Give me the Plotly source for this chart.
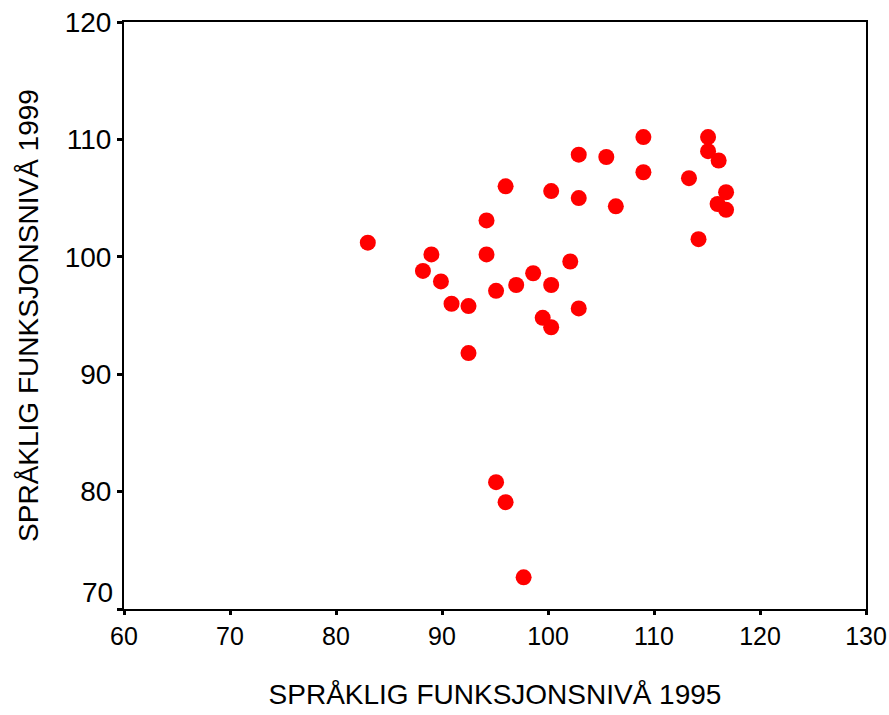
import plotly.graph_objects as go

# Data
x_1995 = [83.0, 89.0, 88.2, 89.9, 90.9, 92.5, 92.5, 96.0, 94.2, 94.2,
          100.3, 102.9, 102.1, 98.6, 97.0, 100.3, 95.1, 102.9, 99.5, 100.3,
          102.9, 105.5, 109.0, 109.0, 106.4, 115.1, 115.1, 116.1, 113.3, 116.8,
          116.0, 116.8, 114.2, 95.1, 96.0, 97.7]
y_1999 = [101.2, 100.2, 98.8, 97.9, 96.0, 95.8, 91.8, 106.0, 103.1, 100.2,
          105.6, 105.0, 99.6, 98.6, 97.6, 97.6, 97.1, 95.6, 94.8, 94.0,
          108.7, 108.5, 110.2, 107.2, 104.3, 110.2, 109.0, 108.2, 106.7, 105.5,
          104.5, 104.0, 101.5, 80.8, 79.1, 72.7]

x_ticks = [60, 70, 80, 90, 100, 110, 120, 130]
y_ticks = [70, 80, 90, 100, 110, 120]
y_ticktext = ["", "80", "90", "100", "110", "120"]
x_title = "SPRÅKLIG FUNKSJONSNIVÅ 1995"
y_title = "SPRÅKLIG FUNKSJONSNIVÅ 1999"

font_family = "Liberation Sans, Arial, sans-serif"

fig = go.Figure()
fig.add_trace(go.Scatter(
    x=x_1995, y=y_1999, mode="markers",
    marker=dict(size=16, color="#ff0000", line=dict(width=0)),
    showlegend=False, hoverinfo="skip"))

fig.update_layout(
    width=889, height=715,
    margin=dict(l=124, r=23, t=22, b=106),
    paper_bgcolor="white", plot_bgcolor="white",
    xaxis=dict(
        range=[60, 130], tickvals=x_ticks, ticktext=[str(v) for v in x_ticks],
        showgrid=False, zeroline=False, automargin=False,
        showline=True, linecolor="black", linewidth=2, mirror=True,
        ticks="outside", ticklen=4, tickwidth=3, tickcolor="black",
        tickfont=dict(family=font_family, size=25, color="black"),
        title=dict(text=x_title, font=dict(family=font_family, size=28, color="black"),
                   standoff=35),
    ),
    yaxis=dict(
        range=[70, 120], tickvals=y_ticks, ticktext=y_ticktext,
        showgrid=False, zeroline=False, automargin=False,
        showline=True, linecolor="black", linewidth=2, mirror=True,
        ticks="outside", ticklen=5, tickwidth=3, tickcolor="black",
        tickfont=dict(family=font_family, size=28, color="black"),
        title=dict(text=y_title, font=dict(family=font_family, size=28, color="black"),
                   standoff=18),
    ),
)

fig.add_annotation(
    text=str(y_ticks[0]), xref="paper", yref="y", x=0, y=71.4,
    xanchor="right", yanchor="middle", xshift=-9, showarrow=False,
    font=dict(family=font_family, size=28, color="black"))

fig.write_html("out.html",
               config={"displayModeBar": False},
               post_script="document.body.style.margin='0';document.body.style.overflow='hidden';")
